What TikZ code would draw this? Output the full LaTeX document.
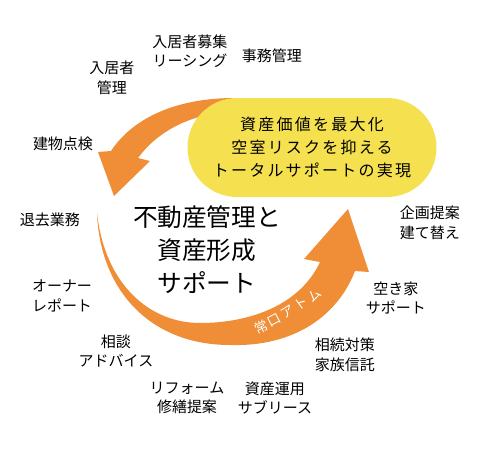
\documentclass[tikz,border=0pt]{standalone}
\usepackage{fontspec}
\setmainfont{Noto Sans CJK JP}
\newfontfamily\goalfont[LetterSpace=14]{Noto Sans CJK JP}
\usetikzlibrary{shapes.misc}

\tikzset{
	item/.style={font=\fontsize{11.25}{14.6}\selectfont, align=center, inner sep=0pt},
	goalbox/.style={rounded rectangle, fill=goalyellow, minimum width=186.75pt, minimum height=74.25pt, inner sep=0pt, align=center, font=\goalfont\fontsize{12}{17.25}\selectfont},
	center/.style={font=\fontsize{18.5}{24.75}\selectfont, align=center, inner sep=0pt},
	brand/.style={font=\fontsize{10}{12}\selectfont, text=white, inner sep=0pt}
}

\begin{document}
\begin{tikzpicture}[x=0.75pt,y=-0.75pt]
	\definecolor{atomorange}{RGB}{240,142,55}
	\definecolor{goalyellow}{RGB}{245,224,80}

	\useasboundingbox (0,0) rectangle (480,450);
	\fill[white] (0,0) rectangle (480,450);

	\fill[atomorange] (97,213) .. controls (100,290) and (150,345) .. (230,345)
		.. controls (295,347) and (338,315) .. (355,271) -- (369,272) -- (348,209) -- (304,259) -- (320,262)
		.. controls (300,305) and (250,323) .. (200,323)
		.. controls (150,323) and (105,285) .. (97,213) -- cycle;
	\fill[atomorange] (235,98) .. controls (170,98) and (130,122) .. (111,151) -- (98,152) -- (114,196) -- (150,161) -- (138,158)
		.. controls (155,135) and (185,114) .. (235,111) -- cycle;

	\node[goalbox] (goal) at (312,147.5) {資産価値を最大化\\空室リスクを抑える\\トータルサポートの実現};
	\node[center] (main) at (207,250) {不動産管理と\\資産形成\\サポート};

	\node[brand, rotate=25] (brand1) at (261,327.5) {常};
	\node[brand, rotate=28] (brand2) at (274.5,320.5) {口};
	\node[brand, rotate=32] (brand3) at (288,312.5) {ア};
	\node[brand, rotate=36] (brand4) at (301,304) {ト};
	\node[brand, rotate=40] (brand5) at (314,295) {ム};

	\node[item] (boshu) at (190,51) {入居者募集\\リーシング};
	\node[item] (jimu) at (272,56) {事務管理};
	\node[item] (nyukyo) at (112,78) {入居者\\管理};
	\node[item] (tenken) at (63,144) {建物点検};
	\node[item] (taikyo) at (50,220) {退去業務};
	\node[item] (owner) at (62,296) {オーナー\\レポート};
	\node[item] (sodan) at (116,351) {相談\\アドバイス};
	\node[item] (reform) at (187,398) {リフォーム\\修繕提案};
	\node[item] (unyo) at (275,398) {資産運用\\サブリース};
	\node[item] (sozoku) at (345,355) {相続対策\\家族信託};
	\node[item] (akiya) at (396,298) {空き家\\サポート};
	\node[item] (kikaku) at (430,223) {企画提案\\建て替え};
\end{tikzpicture}
\end{document}
